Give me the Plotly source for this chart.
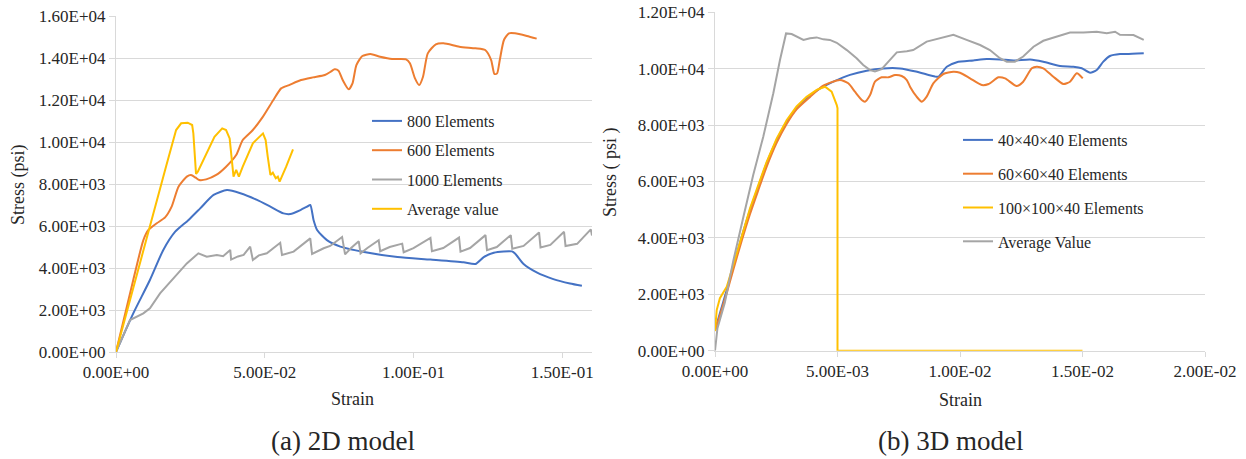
import plotly.graph_objects as go

# ---------------- data: (a) 2D model ----------------
x2d_800 = [0, 0.0058, 0.0114, 0.0159, 0.0199, 0.0244, 0.0283, 0.0328, 0.0373, 0.0418, 0.0474, 0.0519,
           0.0563, 0.0586, 0.062, 0.0642, 0.0653, 0.0664, 0.0676, 0.0709, 0.0754, 0.0834, 0.0946, 0.1057,
           0.1168, 0.1208, 0.1236, 0.127, 0.1303, 0.1331, 0.1342, 0.137, 0.1414, 0.147, 0.1526, 0.1566]
y2d_800 = [0, 1840, 3430, 4860, 5730, 6290, 6840, 7480, 7710, 7560, 7240, 6920,
           6600, 6570, 6760, 6920, 7000, 6290, 5810, 5330, 5020, 4760, 4520, 4400,
           4270, 4190, 4520, 4730, 4790, 4790, 4680, 4190, 3790, 3470, 3260, 3150]

x2d_600 = [0, 0.0058, 0.0092, 0.0109, 0.0137, 0.0165, 0.0187, 0.021, 0.0238, 0.0252, 0.0268, 0.028,
           0.0303, 0.0337, 0.037, 0.0404, 0.0426, 0.046, 0.0494, 0.0529, 0.0555, 0.0582, 0.0622, 0.0662,
           0.0702, 0.0722, 0.0735, 0.0748, 0.0762, 0.0782, 0.0795, 0.0808, 0.0828, 0.0855, 0.0888, 0.0928,
           0.0975, 0.0988, 0.1005, 0.1019, 0.1032, 0.1048, 0.1075, 0.1101, 0.1154, 0.1208, 0.1241, 0.1261,
           0.1272, 0.1281, 0.129, 0.1304, 0.1321, 0.1341, 0.1381, 0.1414]
y2d_600 = [0, 3430, 5330, 5810, 6130, 6410, 6920, 7870, 8350, 8430, 8300, 8190,
           8220, 8430, 8825, 9380, 10094, 10571, 11206, 12000, 12553, 12712, 12950, 13077,
           13189, 13348, 13459, 13395, 12950, 12506, 12792, 13665, 14094, 14190, 14063, 13952,
           13936, 13745, 13030, 12712, 13110, 14222, 14651, 14698, 14539, 14460, 14380, 13904,
           13237, 13268, 13904, 14857, 15175, 15175, 15048, 14921]

x2d_1000 = [0, 0.0047, 0.0092, 0.0114, 0.0148, 0.0193, 0.0238, 0.0277, 0.0305, 0.0339, 0.036, 0.0384,
            0.0387, 0.041, 0.0429, 0.0451, 0.046, 0.048, 0.0507, 0.0552, 0.0558, 0.0597, 0.0653, 0.0659,
            0.0698, 0.072, 0.076, 0.077, 0.079, 0.0816, 0.0822, 0.0845, 0.0883, 0.0888, 0.092, 0.0962,
            0.0967, 0.1, 0.1057, 0.1062, 0.11, 0.1153, 0.1158, 0.119, 0.1242, 0.1247, 0.128, 0.1327,
            0.1332, 0.137, 0.1422, 0.1427, 0.146, 0.1506, 0.1511, 0.155, 0.1596, 0.16]
y2d_1000 = [0, 1520, 1840, 2080, 2790, 3510, 4220, 4700, 4540, 4620, 4560, 4860,
            4400, 4550, 4620, 5020, 4380, 4600, 4700, 5200, 4620, 4780, 5410, 4670,
            4940, 5050, 5480, 4650, 4950, 5270, 4700, 4950, 5320, 4800, 5000, 5160,
            4750, 4950, 5435, 4800, 4950, 5450, 4780, 4950, 5565, 4850, 5000, 5565,
            4920, 5050, 5694, 4980, 5100, 5726, 5050, 5150, 5840, 5550]

x2d_avg = [0, 0.0118, 0.0168, 0.0202, 0.0219, 0.0241, 0.0256, 0.026, 0.0266, 0.0269, 0.0275, 0.0303,
           0.0331, 0.0357, 0.037, 0.0382, 0.039, 0.0395, 0.0404, 0.0413, 0.0426, 0.046, 0.0494, 0.0503,
           0.051, 0.0519, 0.0527, 0.0537, 0.0544, 0.055, 0.0572, 0.0595]
y2d_avg = [0, 6290, 8825, 10570, 10890, 10920, 10810, 10410, 9300, 8480, 8590, 9460,
           10250, 10650, 10570, 10170, 9220, 8350, 8670, 8350, 8825, 9940, 10410, 10090,
           9300, 8430, 8540, 8270, 8350, 8110, 8825, 9650]

# ---------------- data: (b) 3D model ----------------
x3d_40 = [0, 0.0002, 0.00048, 0.00075, 0.00109, 0.00143, 0.00177, 0.00211, 0.00252, 0.00293, 0.00333,
          0.00374, 0.00429, 0.00483, 0.00551, 0.00619, 0.00687, 0.00755, 0.0082, 0.00898, 0.00912,
          0.00946, 0.00987, 0.01054, 0.01109, 0.01163, 0.01219, 0.01286, 0.0134, 0.01408, 0.01463,
          0.01497, 0.01531, 0.01558, 0.01585, 0.01612, 0.01653, 0.0168, 0.0175]
y3d_40 = [730, 1330, 2150, 2980, 4040, 4990, 5820, 6650, 7470, 8120, 8600,
          8950, 9300, 9540, 9780, 9930, 10010, 10010, 9900, 9720, 9716,
          10070, 10230, 10290, 10340, 10330, 10290, 10330, 10250, 10095, 10071,
          10014, 9858, 9954, 10249, 10450, 10521, 10521, 10546]

x3d_60 = [0, 0.0002, 0.00048, 0.00075, 0.00109, 0.00143, 0.00177, 0.00211, 0.00252, 0.00293, 0.00333,
          0.00388, 0.00442, 0.0051, 0.00544, 0.00571, 0.00599, 0.00612, 0.00633, 0.00653, 0.0068,
          0.00708, 0.00735, 0.00762, 0.00783, 0.00796, 0.00823, 0.00844, 0.00864, 0.00891, 0.00932,
          0.00973, 0.01, 0.01041, 0.01089, 0.01117, 0.01157, 0.01184, 0.01231, 0.01258, 0.01293,
          0.01313, 0.0134, 0.01381, 0.01422, 0.01449, 0.01477, 0.01501]
y3d_60 = [700, 1250, 2050, 2880, 3900, 4850, 5700, 6530, 7380, 8050, 8560,
          9000, 9400, 9600, 9482, 9184, 8890, 8830, 9067, 9539, 9694,
          9694, 9776, 9741, 9599, 9362, 9007, 8830, 9007, 9482, 9812,
          9894, 9858, 9659, 9422, 9457, 9694, 9659, 9386, 9539, 10014,
          10071, 10014, 9716, 9457, 9539, 9837, 9659]

x3d_100 = [0, 0.00007, 0.0002, 0.00048, 0.00075, 0.00109, 0.00143, 0.00177, 0.00211, 0.00252, 0.00293,
           0.00333, 0.00374, 0.00415, 0.00449, 0.00476, 0.0049, 0.00497, 0.005, 0.005, 0.015]
y3d_100 = [700, 1440, 1860, 2270, 3050, 4100, 5050, 5880, 6700, 7530, 8180,
           8660, 9000, 9250, 9360, 9184, 8890, 8712, 8600, 0, 0]

x3d_avg = [0, 0.0001, 0.0004, 0.00075, 0.00116, 0.00156, 0.00197, 0.00238, 0.00265, 0.0029, 0.00313,
           0.00333, 0.00361, 0.00388, 0.00415, 0.00442, 0.00469, 0.00497, 0.00538, 0.00578, 0.00605,
           0.00633, 0.00653, 0.0068, 0.00714, 0.00742, 0.00783, 0.00809, 0.00864, 0.00918, 0.00973,
           0.01027, 0.01082, 0.01122, 0.01163, 0.01191, 0.01224, 0.01258, 0.013, 0.0134, 0.01395,
           0.01449, 0.01504, 0.01558, 0.01599, 0.01633, 0.01653, 0.01708, 0.0175]
y3d_avg = [0, 800, 1700, 3200, 4750, 6230, 7590, 9130, 10300, 11250, 11230,
           11135, 11020, 11080, 11110, 11040, 11020, 10920, 10660, 10370, 10130,
           9950, 9900, 9980, 10310, 10580, 10620, 10660, 10960, 11080, 11200,
           11020, 10840, 10660, 10370, 10250, 10250, 10430, 10780, 10990, 11135,
           11280, 11280, 11310, 11255, 11310, 11200, 11195, 11020]

# ---------------- ticks / labels ----------------
x2d_ticks = [0, 0.05, 0.10, 0.15]
x2d_ticktext = ["0.00E+00", "5.00E-02", "1.00E-01", "1.50E-01"]
y2d_ticks = [0, 2000, 4000, 6000, 8000, 10000, 12000, 14000, 16000]
y2d_ticktext = ["0.00E+00", "2.00E+03", "4.00E+03", "6.00E+03", "8.00E+03",
                "1.00E+04", "1.20E+04", "1.40E+04", "1.60E+04"]
x3d_ticks = [0, 0.005, 0.010, 0.015, 0.020]
x3d_ticktext = ["0.00E+00", "5.00E-03", "1.00E-02", "1.50E-02", "2.00E-02"]
y3d_ticks = [0, 2000, 4000, 6000, 8000, 10000, 12000]
y3d_ticktext = ["0.00E+00", "2.00E+03", "4.00E+03", "6.00E+03", "8.00E+03", "1.00E+04", "1.20E+04"]

BLUE, ORANGE, GRAY, YELLOW = "#4472C4", "#ED7D31", "#A5A5A5", "#FFC000"
FONT = "Liberation Serif, serif"
TXT = "#262626"
GRID = "#D9D9D9"
W, H = 1246, 459


def fx(p):
    return p / W


def fy(p):
    return 1 - p / H


fig = go.Figure()


def add(x, y, name, color, xa, ya, leg, grp, shape):
    fig.add_trace(go.Scatter(x=x, y=y, mode="lines", name=name,
                             line=dict(color=color, width=2, shape=shape, smoothing=0.6),
                             xaxis=xa, yaxis=ya, legend=leg, legendgroup=grp,
                             hoverinfo="skip"))


add(x2d_800, y2d_800, "800 Elements", BLUE, "x", "y", "legend", "a1", "spline")
add(x2d_600, y2d_600, "600 Elements", ORANGE, "x", "y", "legend", "a2", "spline")
add(x2d_1000, y2d_1000, "1000 Elements", GRAY, "x", "y", "legend", "a3", "linear")
add(x2d_avg, y2d_avg, "Average value", YELLOW, "x", "y", "legend", "a4", "linear")

add(x3d_40, y3d_40, "40×40×40 Elements", BLUE, "x2", "y2", "legend2", "b1", "spline")
add(x3d_60, y3d_60, "60×60×40 Elements", ORANGE, "x2", "y2", "legend2", "b2", "spline")
add(x3d_100, y3d_100, "100×100×40 Elements", YELLOW, "x2", "y2", "legend2", "b3", "linear")
add(x3d_avg, y3d_avg, "Average Value", GRAY, "x2", "y2", "legend2", "b4", "linear")

axis_common = dict(showline=True, linecolor=GRID, linewidth=1, ticks="outside",
                   tickcolor=GRID, zeroline=False, automargin=False,
                   tickfont=dict(family=FONT, size=17, color=TXT))

fig.update_layout(
    width=W, height=H,
    margin=dict(l=0, r=0, t=0, b=0, pad=0, autoexpand=False),
    paper_bgcolor="white", plot_bgcolor="white",
    font=dict(family=FONT, color=TXT),
    showlegend=True,
    xaxis=dict(domain=[fx(116), fx(592)], range=[0, 0.16], anchor="y", showgrid=False,
               tickvals=x2d_ticks, ticktext=x2d_ticktext, ticklen=5, **axis_common),
    yaxis=dict(domain=[fy(352), fy(16)], range=[0, 16000], anchor="x", showgrid=True,
               gridcolor=GRID, gridwidth=1,
               tickvals=y2d_ticks, ticktext=y2d_ticktext, ticklen=6, **axis_common),
    xaxis2=dict(domain=[fx(715), fx(1205)], range=[0, 0.02], anchor="y2", showgrid=False,
                tickvals=x3d_ticks, ticktext=x3d_ticktext, ticklen=5, **axis_common),
    yaxis2=dict(domain=[fy(350.7), fy(12.3)], range=[0, 12000], anchor="x2", showgrid=True,
                gridcolor=GRID, gridwidth=1,
                tickvals=y3d_ticks, ticktext=y3d_ticktext, ticklen=6, **axis_common),
    legend=dict(x=fx(367), y=fy(104), xanchor="left", yanchor="top",
                bgcolor="rgba(0,0,0,0)", font=dict(family=FONT, size=16, color=TXT),
                tracegroupgap=5.5, itemwidth=30),
    legend2=dict(x=fx(958), y=fy(123), xanchor="left", yanchor="top",
                 bgcolor="rgba(0,0,0,0)", font=dict(family=FONT, size=16, color=TXT),
                 tracegroupgap=10, itemwidth=30),
)

ann = [
    dict(text="Stress (psi)", x=fx(18), y=fy(185), textangle=-90, size=18),
    dict(text="Stress ( psi )", x=fx(611), y=fy(172), textangle=-90, size=18),
    dict(text="Strain", x=fx(352), y=fy(399), textangle=0, size=18),
    dict(text="Strain", x=fx(960), y=fy(400), textangle=0, size=18),
    dict(text="(a) 2D model", x=fx(343), y=fy(441), textangle=0, size=27),
    dict(text="(b) 3D model", x=fx(950), y=fy(441), textangle=0, size=27),
]
for a in ann:
    fig.add_annotation(text=a["text"], x=a["x"], y=a["y"], xref="paper", yref="paper",
                       xanchor="center", yanchor="middle", showarrow=False,
                       textangle=a["textangle"],
                       font=dict(family=FONT, size=a["size"], color=TXT))

fig.write_html("out.html")
